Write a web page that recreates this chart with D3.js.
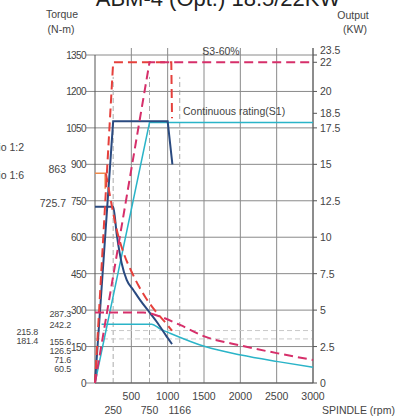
<!DOCTYPE html>
<html lang="en">
    <head>
        <meta charset="utf-8">
        <title>Spindle output</title>
        <script src="https://d3js.org/d3.v7.min.js"></script>
        <style type="text/css">
            body { margin: 0; background: #fff; }
            text { font-family: "Liberation Sans", Arial, sans-serif; font-size: 10.5px; fill: #444; }
            /* the torque tick labels are narrow in the original */
            .ylab { font-size: 10px; letter-spacing: -0.6px; }
            /* crowded values beside the axis */
            .mark { font-size: 9px; letter-spacing: -0.2px; }
        </style>
    </head>
    <body>
        <script type="text/javascript">

            // tick labels
            var rpmTicksTop = [500, 1000, 1500, 2000, 2500, 3000];
            var rpmTicksBottom = [250, 750, 1166];
            var torqueTicks = [0, 150, 300, 450, 600, 750, 900, 1050, 1200, 1350];
            var kwTicks = [0, 2.5, 5, 7.5, 10, 12.5, 15, 17.5, 18.5, 20, 22, 23.5];
            var torqueMarksInner = [287.3, 242.2, 155.6, 126.5, 71.6, 60.5];
            var torqueMarksOuter = [215.8, 181.4];
            var torqueMarksGear = [863, 725.7];
            var ratioLabels = ["Ratio 1:2", "Ratio 1:6"];

            // curves: [rpm, N-m]
            var s3PowerLow = [[0, 0], [250, 1320], [1050, 1320], [1060, 1090]];
            var s3PowerHigh = [[0, 0], [750, 1320], [3000, 1320]];
            var s1PowerLow = [[0, 0], [250, 1077], [1000, 1077], [1065, 900]];
            var s1PowerHigh = [[0, 0], [750, 1072], [3000, 1072]];
            var s1TorqueLow = [[0, 725.7], [250, 725.7], [300, 610], [367, 493], [436, 424], [527, 383],
                               [619, 342], [757, 288], [849, 252], [987, 191], [1060, 160]];
            var s3TorqueLow = [[150, 863], [200, 780], [300, 630], [400, 530], [500, 460], [600, 400],
                               [700, 350], [800, 308], [900, 272], [1000, 238], [1060, 215]];
            var s3TorqueStep = [[0, 863], [140, 863], [140, 800]];
            var s1TorqueHigh = [[90, 242.2], [780, 242.2], [900, 222], [1032, 205], [1514, 150],
                                [2009, 115], [2518, 88], [3000, 65]];
            var s3TorqueHigh = [[0, 290], [665, 290], [750, 287], [900, 273], [1170, 239], [1514, 191],
                                [2009, 154], [2518, 122], [3000, 95]];
            var refLevels = [215.8, 181.4];
            var refSpeeds = [250, 750, 1166];

            var svgWidth = 395, svgHeight = 420;
            var plotLeft = 95, plotRight = 313, plotTop = 55, plotBottom = 383;

            var x = d3.scaleLinear().domain([0, 3000]).range([plotLeft, plotRight]);
            var y = d3.scaleLinear().domain([0, 1350]).range([plotBottom, plotTop]);
            var yKw = d3.scaleLinear().domain([0, 22.5]).range([plotBottom, plotTop]).clamp(true);

            var svg = d3.select("body").append("svg")
                .attr("width", svgWidth)
                .attr("height", svgHeight);

            // title, cut off by the top edge
            svg.append("text")
                .attr("x", 218).attr("y", 6)
                .attr("text-anchor", "middle")
                .style("font-size", "22px").style("fill", "#222")
                .text("ABM-4 (Opt.) 18.5/22KW");

            // grid
            var grid = svg.append("g");
            grid.selectAll(".hgrid").data(torqueTicks).enter().append("line")
                .attr("x1", plotLeft - 9).attr("x2", plotRight)
                .attr("y1", d => y(d)).attr("y2", d => y(d))
                .style("stroke", "#8a8a8a").style("stroke-width", 1);
            grid.selectAll(".vgrid").data(rpmTicksTop).enter().append("line")
                .attr("x1", d => x(d)).attr("x2", d => x(d))
                .attr("y1", plotBottom).attr("y2", plotTop - 7)
                .style("stroke", "#8a8a8a").style("stroke-width", 1);

            // dashed reference lines
            grid.selectAll(".vref").data(refSpeeds).enter().append("line")
                .attr("x1", d => x(d)).attr("x2", d => x(d))
                .attr("y1", plotBottom).attr("y2", y(1260))
                .style("stroke", "#aaa").style("stroke-dasharray", "5,3");
            grid.selectAll(".href").data(refLevels).enter().append("line")
                .attr("x1", plotLeft).attr("x2", plotRight)
                .attr("y1", d => y(d)).attr("y2", d => y(d))
                .style("stroke", "#c8c8c8").style("stroke-dasharray", "5,3");

            // axes frame
            svg.append("line").attr("x1", plotLeft).attr("x2", plotLeft).attr("y1", plotTop).attr("y2", plotBottom)
                .style("stroke", "#555");
            svg.append("line").attr("x1", plotRight).attr("x2", plotRight).attr("y1", plotTop - 7).attr("y2", plotBottom)
                .style("stroke", "#555");
            svg.append("line").attr("x1", plotLeft).attr("x2", plotRight).attr("y1", plotBottom).attr("y2", plotBottom)
                .style("stroke", "#555");

            // left tick labels
            svg.selectAll(".ylab").data(torqueTicks).enter().append("text")
                .attr("class", "ylab")
                .attr("x", plotLeft - 9).attr("y", d => y(d) + 4)
                .attr("text-anchor", "end")
                .text(d => d);

            // push crowded labels apart, working upwards from the lowest value
            function spread(values, scale, gap) {
                var out = [];
                var lastY = Infinity;
                values.slice().sort((a, b) => a - b).forEach(function(v) {
                    var py = Math.min(scale(v) + 4, lastY - gap);
                    out.push({v: v, y: py});
                    lastY = py;
                });
                return out;
            }

            // right ticks and labels
            svg.selectAll(".kwtick").data(kwTicks).enter().append("line")
                .attr("x1", plotRight).attr("x2", plotRight + 4)
                .attr("y1", d => yKw(d)).attr("y2", d => yKw(d))
                .style("stroke", "#555");
            svg.selectAll(".kwlab").data(spread(kwTicks, yKw, 12)).enter().append("text")
                .attr("x", plotRight + 7).attr("y", d => d.y)
                .text(d => d.v);

            // x tick labels, two rows
            svg.selectAll(".xlab").data(rpmTicksTop).enter().append("text")
                .attr("x", d => x(d)).attr("y", 400)
                .attr("text-anchor", "middle")
                .text(d => d);
            svg.selectAll(".xlab2").data(rpmTicksBottom).enter().append("text")
                .attr("x", d => x(d)).attr("y", 414)
                .attr("text-anchor", "middle")
                .text(d => d);

            // marked torque values
            svg.selectAll(".mark1").data(spread(torqueMarksInner, y, 9)).enter().append("text")
                .attr("class", "mark")
                .attr("x", 71).attr("y", d => d.y)
                .attr("text-anchor", "end")
                .text(d => d.v);
            svg.selectAll(".mark2").data(spread(torqueMarksOuter, y, 8.5)).enter().append("text")
                .attr("class", "mark")
                .attr("x", 38).attr("y", d => d.y + 1)
                .attr("text-anchor", "end")
                .text(d => d.v);
            svg.selectAll(".mark3").data(torqueMarksGear).enter().append("text")
                .attr("x", 66).attr("y", d => y(d))
                .attr("text-anchor", "end")
                .text(d => d);

            // ratio labels running off the left edge
            svg.selectAll(".ratio").data(ratioLabels).enter().append("text")
                .attr("x", 24).attr("y", (d, i) => 151 + i * 28)
                .attr("text-anchor", "end")
                .text(d => d);

            // axis titles
            svg.append("text").attr("x", 62).attr("y", 18).attr("text-anchor", "middle").text("Torque");
            svg.append("text").attr("x", 61).attr("y", 33).attr("text-anchor", "middle").text("(N-m)");
            svg.append("text").attr("x", 353).attr("y", 19).attr("text-anchor", "middle").text("Output");
            svg.append("text").attr("x", 355).attr("y", 33).attr("text-anchor", "middle").text("(KW)");
            svg.append("text").attr("x", 221).attr("y", 55).attr("text-anchor", "middle").text("S3-60%");
            svg.append("text").attr("x", 183).attr("y", 115).text("Continuous rating(S1)");
            svg.append("text").attr("x", 322).attr("y", 414).text("SPINDLE (rpm)");

            // curves
            var line = d3.line().x(d => x(d[0])).y(d => y(d[1]));
            var smooth = d3.line().x(d => x(d[0])).y(d => y(d[1])).curve(d3.curveMonotoneX);

            function draw(data, gen, color, width, dash) {
                svg.append("path")
                    .datum(data)
                    .attr("d", gen)
                    .style("fill", "none")
                    .style("stroke", color)
                    .style("stroke-width", width)
                    .style("stroke-dasharray", dash || null);
            }

            draw(s1PowerHigh, line, "#2ab4c8", 1.5);
            draw(s1TorqueHigh, smooth, "#2ab4c8", 1.5);
            draw(s1PowerLow, line, "#2a4a80", 2);
            draw(s1TorqueLow, smooth, "#2a4a80", 2);
            draw(s3TorqueStep, line, "#f08a4b", 1.5);
            draw(s3PowerLow, line, "#e5403c", 2, "9,5");
            draw(s3TorqueLow, smooth, "#e5403c", 2, "9,5");
            draw(s3PowerHigh, line, "#d62f6a", 2, "9,5");
            draw(s3TorqueHigh, smooth, "#d62f6a", 2, "9,5");
        </script>
    </body>
</html>
